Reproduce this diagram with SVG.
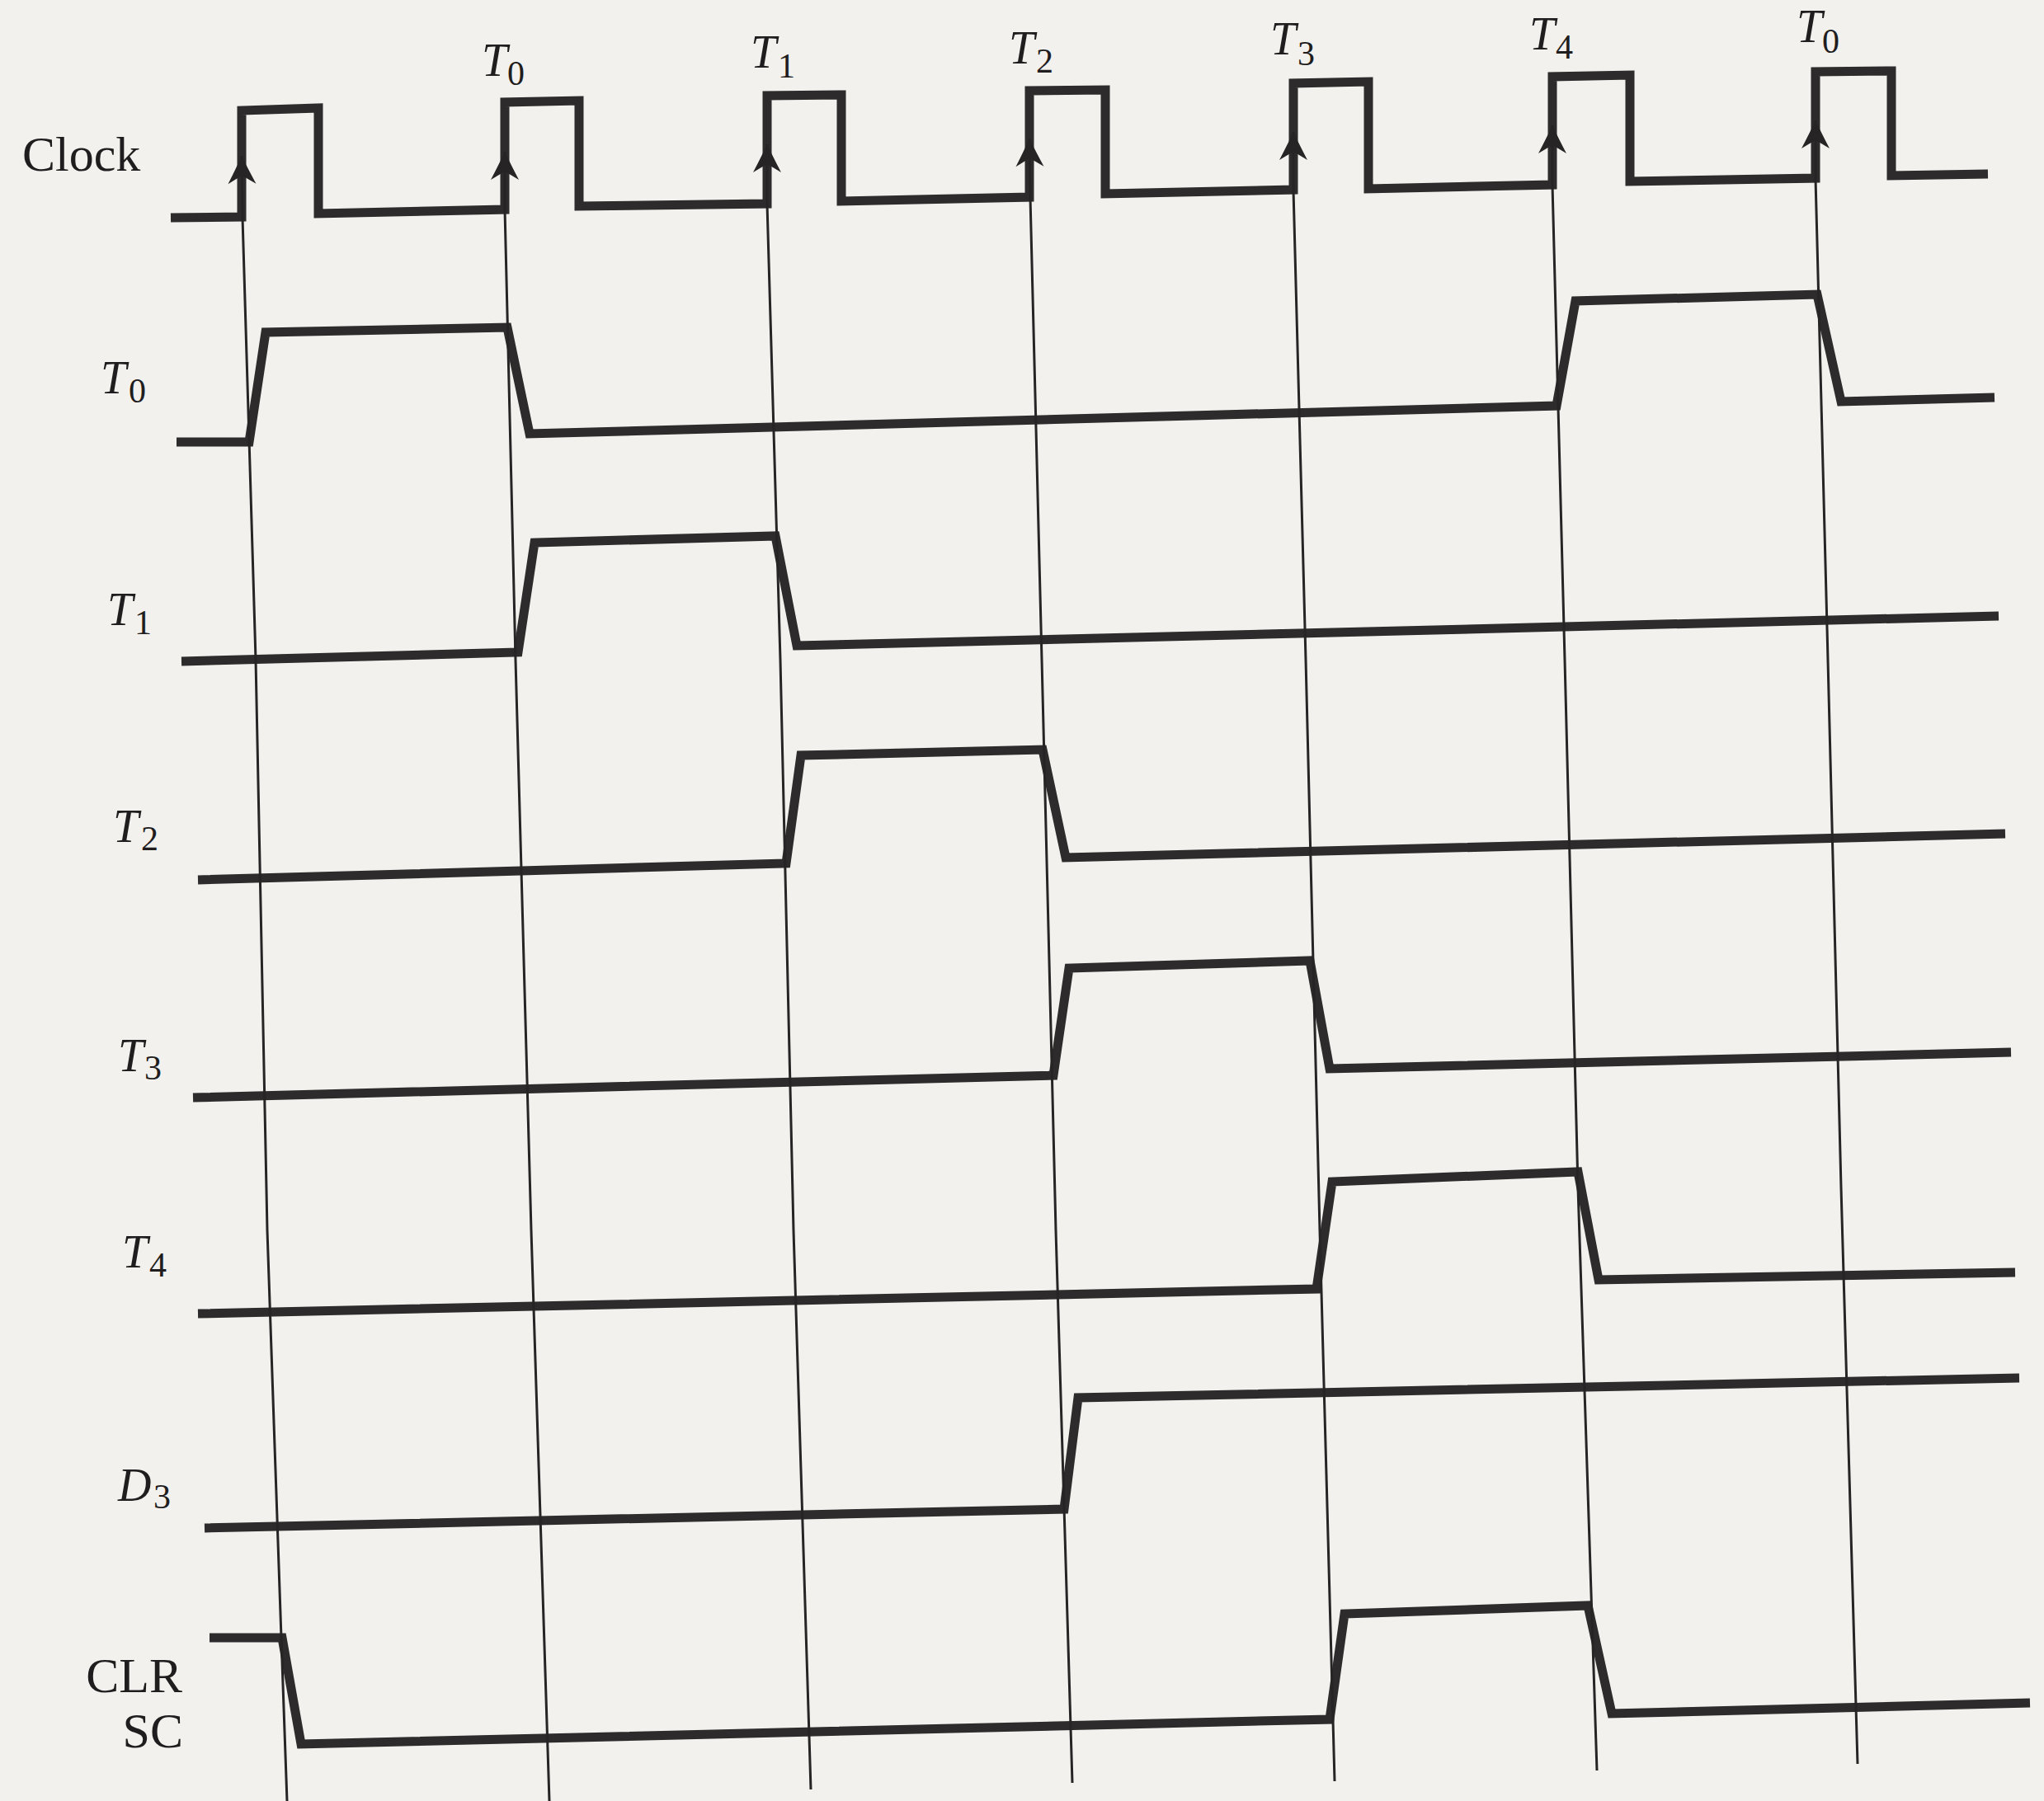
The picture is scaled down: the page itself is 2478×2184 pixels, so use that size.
<svg xmlns="http://www.w3.org/2000/svg" width="2478" height="2184" viewBox="0 0 2478 2184">
<style>
.sig{fill:none;stroke:#2d2b2b;stroke-width:11;stroke-linejoin:miter;stroke-linecap:butt}
.edge{fill:none;stroke:#262424;stroke-width:3}
.lbl{font-family:"Liberation Serif","Times New Roman",serif;fill:#1f1d1d}
.it{font-style:italic;font-size:56px}
.sub{font-style:normal;font-size:42px}
.rm{font-size:60px}
</style>
<defs>
<marker id="arr" markerUnits="userSpaceOnUse" viewBox="-40 -22 44 44" markerWidth="44" markerHeight="44" refX="0" refY="0" orient="auto-start-reverse" overflow="visible">
<path d="M0,0 Q-15,-7 -34,-17 L-25,-2 L-25,2 L-34,17 Q-15,7 0,0 Z" fill="#262424"/>
</marker>
</defs>
<rect width="2478" height="2184" fill="#f2f1ed"/>

<g id="clock">
<text class="lbl rm" x="27" y="207">Clock</text>
<polyline class="sig" points="207,264 293,263 293,134 386,131 386,259 612,254 612,124 702,122 702,250 930,247 930,116 1020,115 1020,244 1248,239 1248,110 1340,109 1340,235 1568,230 1568,101 1659,99 1659,229 1882,224 1882,93 1976,91 1976,220 2201,216 2201,87 2293,86 2293,213 2410,211"/>
</g>

<g id="clock-labels">
<text class="lbl it" x="584" y="92">T<tspan class="sub" x="615" y="103">0</tspan></text>
<text class="lbl it" x="910" y="82">T<tspan class="sub" x="943" y="94">1</tspan></text>
<text class="lbl it" x="1223" y="77">T<tspan class="sub" x="1256" y="88">2</tspan></text>
<text class="lbl it" x="1540" y="66">T<tspan class="sub" x="1573" y="79">3</tspan></text>
<text class="lbl it" x="1854" y="60">T<tspan class="sub" x="1886" y="71">4</tspan></text>
<text class="lbl it" x="2178" y="51">T<tspan class="sub" x="2209" y="64">0</tspan></text>
</g>

<g id="T0">
<text class="lbl it" x="122" y="477">T<tspan class="sub" x="156" y="488">0</tspan></text>
<polyline class="sig" points="214,536 302,536 322,403 615,397 642,526 1887,492 1910,365 2203,357 2232,487 2418,482"/>
</g>

<g id="T1">
<text class="lbl it" x="130" y="758">T<tspan class="sub" x="163" y="769">1</tspan></text>
<polyline class="sig" points="220,802 628,791 648,658 940,650 966,783 2423,747"/>
</g>

<g id="T2">
<text class="lbl it" x="137" y="1021">T<tspan class="sub" x="171" y="1031">2</tspan></text>
<polyline class="sig" points="240,1067 953,1047 971,916 1264,909 1292,1040 2431,1011"/>
</g>

<g id="T3">
<text class="lbl it" x="143" y="1299">T<tspan class="sub" x="175" y="1309">3</tspan></text>
<polyline class="sig" points="234,1331 1277,1304 1296,1174 1588,1165 1612,1296 2438,1276"/>
</g>

<g id="T4">
<text class="lbl it" x="148" y="1537">T<tspan class="sub" x="181" y="1548">4</tspan></text>
<polyline class="sig" points="240,1593 1596,1563 1615,1433 1913,1421 1938,1552 2443,1543"/>
</g>

<g id="D3">
<text class="lbl it" x="143" y="1820">D<tspan class="sub" x="186" y="1829">3</tspan></text>
<polyline class="sig" points="248,1853 1290,1830 1307,1695 2448,1671"/>
</g>

<g id="CLRSC">
<text class="lbl rm" x="221" y="2052" text-anchor="end">CLR</text>
<text class="lbl rm" x="222" y="2119" text-anchor="end">SC</text>
<polyline class="sig" points="254,1986 342,1986 365,2115 1612,2085 1630,1957 1925,1947 1954,2078 2461,2065"/>
</g>

<g id="connectors">
<polyline class="edge" marker-start="url(#arr)" points="293,189 294,264 310,800 324,1492 341,1986 348,2184"/>
<polyline class="edge" marker-start="url(#arr)" points="612,184 612,254 625,800 644,1492 666,2184"/>
<polyline class="edge" marker-start="url(#arr)" points="930,175 930,247 946,800 962,1492 983,2170"/>
<polyline class="edge" marker-start="url(#arr)" points="1248,168 1249,239 1263,800 1280,1492 1300,2162"/>
<polyline class="edge" marker-start="url(#arr)" points="1568,160 1568,230 1583,800 1600,1492 1618,2160"/>
<polyline class="edge" marker-start="url(#arr)" points="1882,152 1882,224 1897,800 1913,1440 1936,2147"/>
<polyline class="edge" marker-start="url(#arr)" points="2201,146 2201,216 2216,800 2232,1440 2252,2139"/>
</g>
</svg>
